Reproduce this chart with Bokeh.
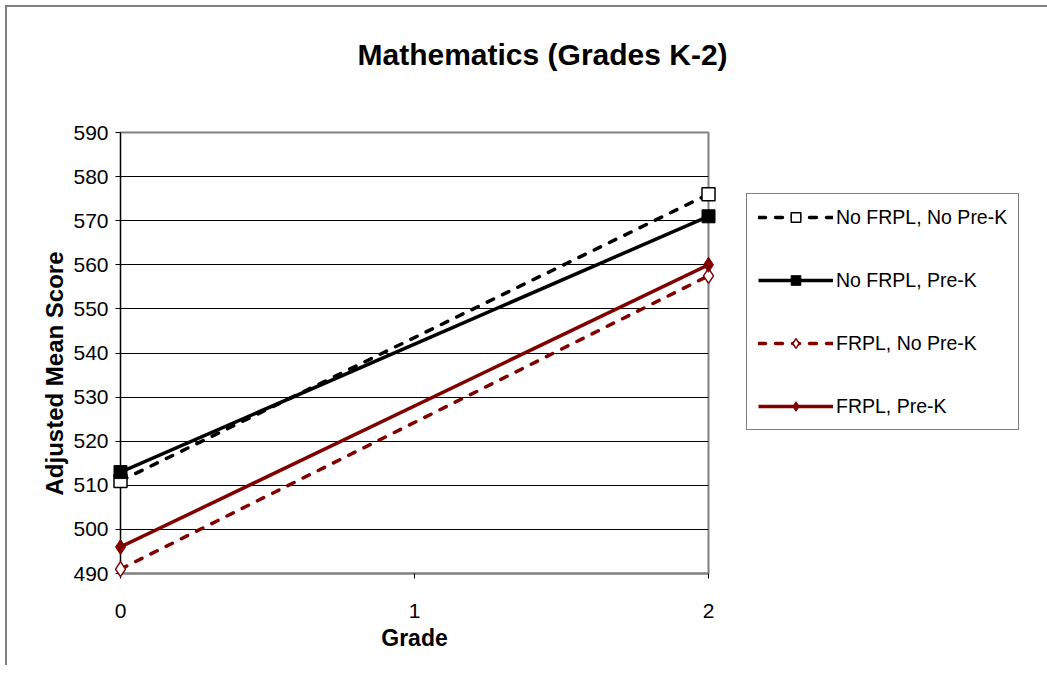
from bokeh.plotting import figure
from bokeh.models import Legend, LegendItem, Title, FixedTicker, Range1d
from bokeh.embed import file_html
from bokeh.resources import INLINE

# ---- data ----
grades = [0, 2]
no_frpl_no_prek = [511, 576]
no_frpl_prek = [513, 571]
frpl_no_prek = [491, 557.5]
frpl_prek = [496, 560]
series_names = ["No FRPL, No Pre-K", "No FRPL, Pre-K", "FRPL, No Pre-K", "FRPL, Pre-K"]
x_ticks = [0, 1, 2]
y_ticks = list(range(490, 591, 10))
title_text = "Mathematics (Grades K-2)"
x_label = "Grade"
y_label = "Adjusted Mean Score"

FONT = "Liberation Sans"
DARKRED = "#800000"
LW = 3.5
DASH = "7 10"

p = figure(frame_width=588, frame_height=441, output_backend="svg", toolbar_location=None,
           x_range=Range1d(0, 2), y_range=Range1d(490, 590),
           min_border_left=113, min_border_top=125,
           min_border_right=0, min_border_bottom=92)
p.title = None
p.styles = {"margin-left": "5px", "margin-top": "5px",
            "border-left": "2px solid #808080", "border-top": "2px solid #808080"}

p.background_fill_color = "white"
p.border_fill_color = "white"
p.outline_line_color = "#808080"
p.outline_line_width = 2

p.xgrid.grid_line_color = None
p.ygrid.grid_line_color = "black"
p.ygrid.grid_line_width = 1

p.xaxis.ticker = FixedTicker(ticks=x_ticks)
p.yaxis.ticker = FixedTicker(ticks=y_ticks)
for ax in (p.xaxis[0], p.yaxis[0]):
    ax.major_label_text_font = FONT
    ax.major_label_text_font_size = "21px"
    ax.major_label_text_color = "black"
    ax.major_tick_in = 0
    ax.major_tick_out = 5
    ax.minor_tick_line_color = None
    ax.major_tick_line_color = "black"
    ax.axis_label_text_font = FONT
    ax.axis_label_text_font_size = "23px"
    ax.axis_label_text_font_style = "bold"
    ax.axis_label_text_color = "black"
p.xaxis.axis_line_color = "#808080"
p.xaxis.axis_line_width = 2
p.xaxis.major_label_standoff = 25
p.xaxis.axis_label = x_label
p.xaxis.axis_label_standoff = 4
p.yaxis.axis_line_color = "black"
p.yaxis.axis_line_width = 1
p.yaxis.major_label_standoff = 7

# ---- series ----
r1l = p.line(grades, no_frpl_no_prek, line_color="black", line_width=LW, line_dash=DASH,
             line_cap="round")
r1m = p.scatter(grades, no_frpl_no_prek, marker="square", size=13, fill_color="white",
                line_color="black", line_width=1.5, level="overlay")
r2l = p.line(grades, no_frpl_prek, line_color="black", line_width=LW)
r2m = p.scatter(grades, no_frpl_prek, marker="square", size=13, fill_color="black",
                line_color="black", level="overlay")
r3l = p.line(grades, frpl_no_prek, line_color=DARKRED, line_width=LW, line_dash=DASH,
             line_cap="round")
r3m = p.scatter(grades, frpl_no_prek, marker="diamond", size=15, fill_color="white",
                line_color=DARKRED, line_width=1.5, level="overlay")
r4l = p.line(grades, frpl_prek, line_color=DARKRED, line_width=LW)
r4m = p.scatter(grades, frpl_prek, marker="diamond", size=15, fill_color=DARKRED,
                line_color=DARKRED, level="overlay")

legend = Legend(items=[
    LegendItem(label=series_names[0], renderers=[r1l, r1m]),
    LegendItem(label=series_names[1], renderers=[r2l, r2m]),
    LegendItem(label=series_names[2], renderers=[r3l, r3m]),
    LegendItem(label=series_names[3], renderers=[r4l, r4m]),
], location=(38, 143))
legend.glyph_width = 75
legend.glyph_height = 24
legend.label_height = 24
legend.spacing = 39
legend.padding = 11
legend.margin = 0
legend.label_standoff = 3
legend.label_text_font = FONT
legend.label_text_font_size = "19.5px"
legend.label_text_color = "black"
legend.border_line_color = "black"
legend.border_line_width = 1
legend.background_fill_color = "white"
legend.background_fill_alpha = 1
p.add_layout(legend, "right")

# ---- titles ----
spacer = Title(text=" ", text_font=FONT, text_font_size="20px", standoff=33)
p.add_layout(spacer, "above")
main_title = Title(text=title_text, align="left", offset=237, standoff=10,
                   text_font=FONT, text_font_size="30px", text_font_style="bold",
                   text_color="black")
p.add_layout(main_title, "above")

ytitle = Title(text=y_label, align="left", offset=78, standoff=6,
               text_font=FONT, text_font_size="24px", text_font_style="bold",
               text_color="black")
p.add_layout(ytitle, "left")

open("out.html", "w").write(file_html(p, INLINE))
